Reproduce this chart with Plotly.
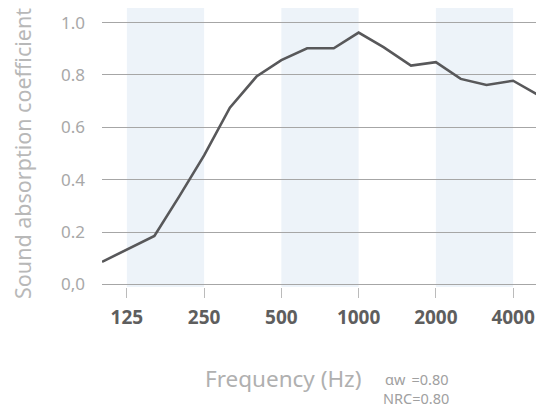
import plotly.graph_objects as go

freq = [100, 125, 160, 200, 250, 315, 400, 500, 630, 800, 1000, 1250, 1600, 2000, 2500, 3150, 4000, 5000]
alpha = [0.086, 0.134, 0.185, 0.336, 0.493, 0.675, 0.794, 0.857, 0.902, 0.902, 0.962, 0.906, 0.836, 0.849, 0.785, 0.762, 0.778, 0.724]

x_tickvals = [125, 250, 500, 1000, 2000, 4000]
x_ticktext = ["125", "250", "500", "1000", "2000", "4000"]
y_tickvals = [0.0, 0.2, 0.4, 0.6, 0.8, 1.0]
y_ticktext = ["0,0", "0.2", "0.4", "0.6", "0.8", "1.0"]
bands = [(125, 250), (500, 1000), (2000, 4000)]

FONT = "Noto Sans"
OFF = 8  # page body margin
W, H = 544 - OFF, 413 - OFF
L, R, T, B = 102 - OFF, 6, 20 - OFF, 126
PH = H - T - B
PW = W - L - R

fig = go.Figure()
fig.add_trace(go.Scatter(x=freq, y=alpha, mode="lines",
                         line=dict(color="#58585a", width=2.6), showlegend=False))

for b0, b1 in bands:
    fig.add_shape(type="rect", xref="x", yref="paper", x0=b0, x1=b1, y0=0, y1=1.045,
                  fillcolor="#edf3f9", line=dict(width=0), layer="below")

def py(pix):
    return (H - B - (pix - OFF)) / PH

def px(pix):
    return (pix - OFF - L) / PW

fig.update_layout(
    width=W, height=H,
    margin=dict(l=L, r=R, t=T, b=B),
    plot_bgcolor="white", paper_bgcolor="white",
    font=dict(family=FONT),
    xaxis=dict(type="log", range=[2, 3.699], tickvals=x_tickvals, ticktext=x_ticktext,
               showgrid=False, zeroline=False, showline=False, automargin=False,
               ticks="outside", ticklen=10, tickcolor="#bbbbbb", tickwidth=1,
               ticklabelstandoff=3,
               tickfont=dict(family=FONT, size=19, color="#5e5e5e", weight="bold")),
    yaxis=dict(range=[-0.01, 1.01], tickvals=y_tickvals, ticktext=y_ticktext,
               showgrid=True, gridcolor="#a6a6a6", gridwidth=1, zeroline=False, showline=False,
               automargin=False,
               ticks="", tickfont=dict(family=FONT, size=17, color="#a8a8a8"),
               ticklabelstandoff=16,
               title=dict(text="Sound absorption coefficient",
                          font=dict(family=FONT, size=21.5, color="#b8b8b8"), standoff=26)),
)

fig.add_annotation(xref="paper", yref="paper", x=px(283), y=py(378),
                   xanchor="center", yanchor="middle", showarrow=False,
                   text="Frequency (Hz)", font=dict(family=FONT, size=22.5, color="#b0b0b0"))
fig.add_annotation(xref="paper", yref="paper", x=px(451), y=py(379),
                   xanchor="right", yanchor="middle", showarrow=False,
                   text="\u0251w\u2009 =0.80", font=dict(family=FONT, size=14.5, color="#a0a0a0"))
fig.add_annotation(xref="paper", yref="paper", x=px(451), y=py(398),
                   xanchor="right", yanchor="middle", showarrow=False,
                   text="NRC=0.80", font=dict(family=FONT, size=14.5, color="#a0a0a0"))

fig.write_html("out.html")
